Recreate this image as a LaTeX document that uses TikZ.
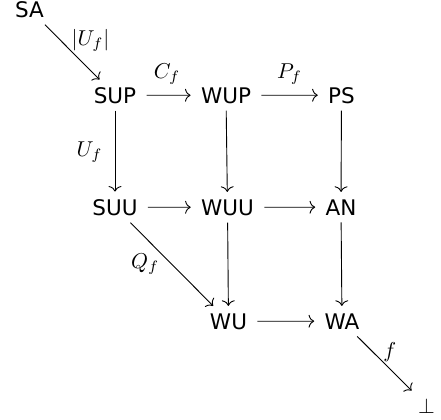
\documentclass[tikz,border=0pt]{standalone}
\usepackage{fontspec}
\setsansfont{DejaVu Sans}
\usetikzlibrary{arrows.meta}
\begin{document}
\begin{tikzpicture}[x=0.465pt,y=-0.465pt,
  obj/.style={anchor=base, inner xsep=4.65pt, inner ysep=3.25pt, font=\sffamily},
  arr/.style={-{To[length=2.6pt,width=6pt]}, line width=0.42pt},
  lbl/.style={inner sep=0pt}]
\useasboundingbox (0,0) rectangle (441,420);
% objects
\node[obj] (sa)  at (29.5,17)  {SA};
\node[obj] (sup) at (115,103)  {SUP};
\node[obj] (wup) at (226,103)  {WUP};
\node[obj] (ps)  at (341.5,103) {PS};
\node[obj] (suu) at (115,215)  {SUU};
\node[obj] (wuu) at (227.5,215) {WUU};
\node[obj] (an)  at (341,215)  {AN};
\node[obj] (wu)  at (228.5,329) {WU};
\node[obj] (wa)  at (342,329)  {WA};
\node[obj] (bot) at (426.5,413) {$\bot$};
% morphisms
\draw[arr] (sa) -- node[lbl, anchor=base west, xshift=-0.5pt, yshift=3.25pt] {$|U_f|$} (sup);
\draw[arr] (sup) -- node[lbl, anchor=base, xshift=-0.7pt, yshift=7.9pt] {$C_f$} (wup);
\draw[arr] (wup) -- node[lbl, anchor=base, yshift=7.9pt] {$P_f$} (ps);
\draw[arr] (sup) -- node[lbl, anchor=base east, xshift=-5.6pt, yshift=-2.3pt] {$U_f$} (suu);
\draw[arr] (wup) -- (wuu);
\draw[arr] (ps) -- (an);
\draw[arr] (suu) -- (wuu);
\draw[arr] (wuu) -- (an);
\draw[arr] (suu) -- node[lbl, anchor=base east, xshift=-5.6pt, yshift=-1.9pt] {$Q_f$} (wu);
\draw[arr] (wuu) -- (wu);
\draw[arr] (an) -- (wa);
\draw[arr] (wu) -- (wa);
\draw[arr] (wa) -- node[lbl, anchor=base west, xshift=-0.7pt, yshift=2.6pt] {$f$} (bot);
\end{tikzpicture}
\end{document}
